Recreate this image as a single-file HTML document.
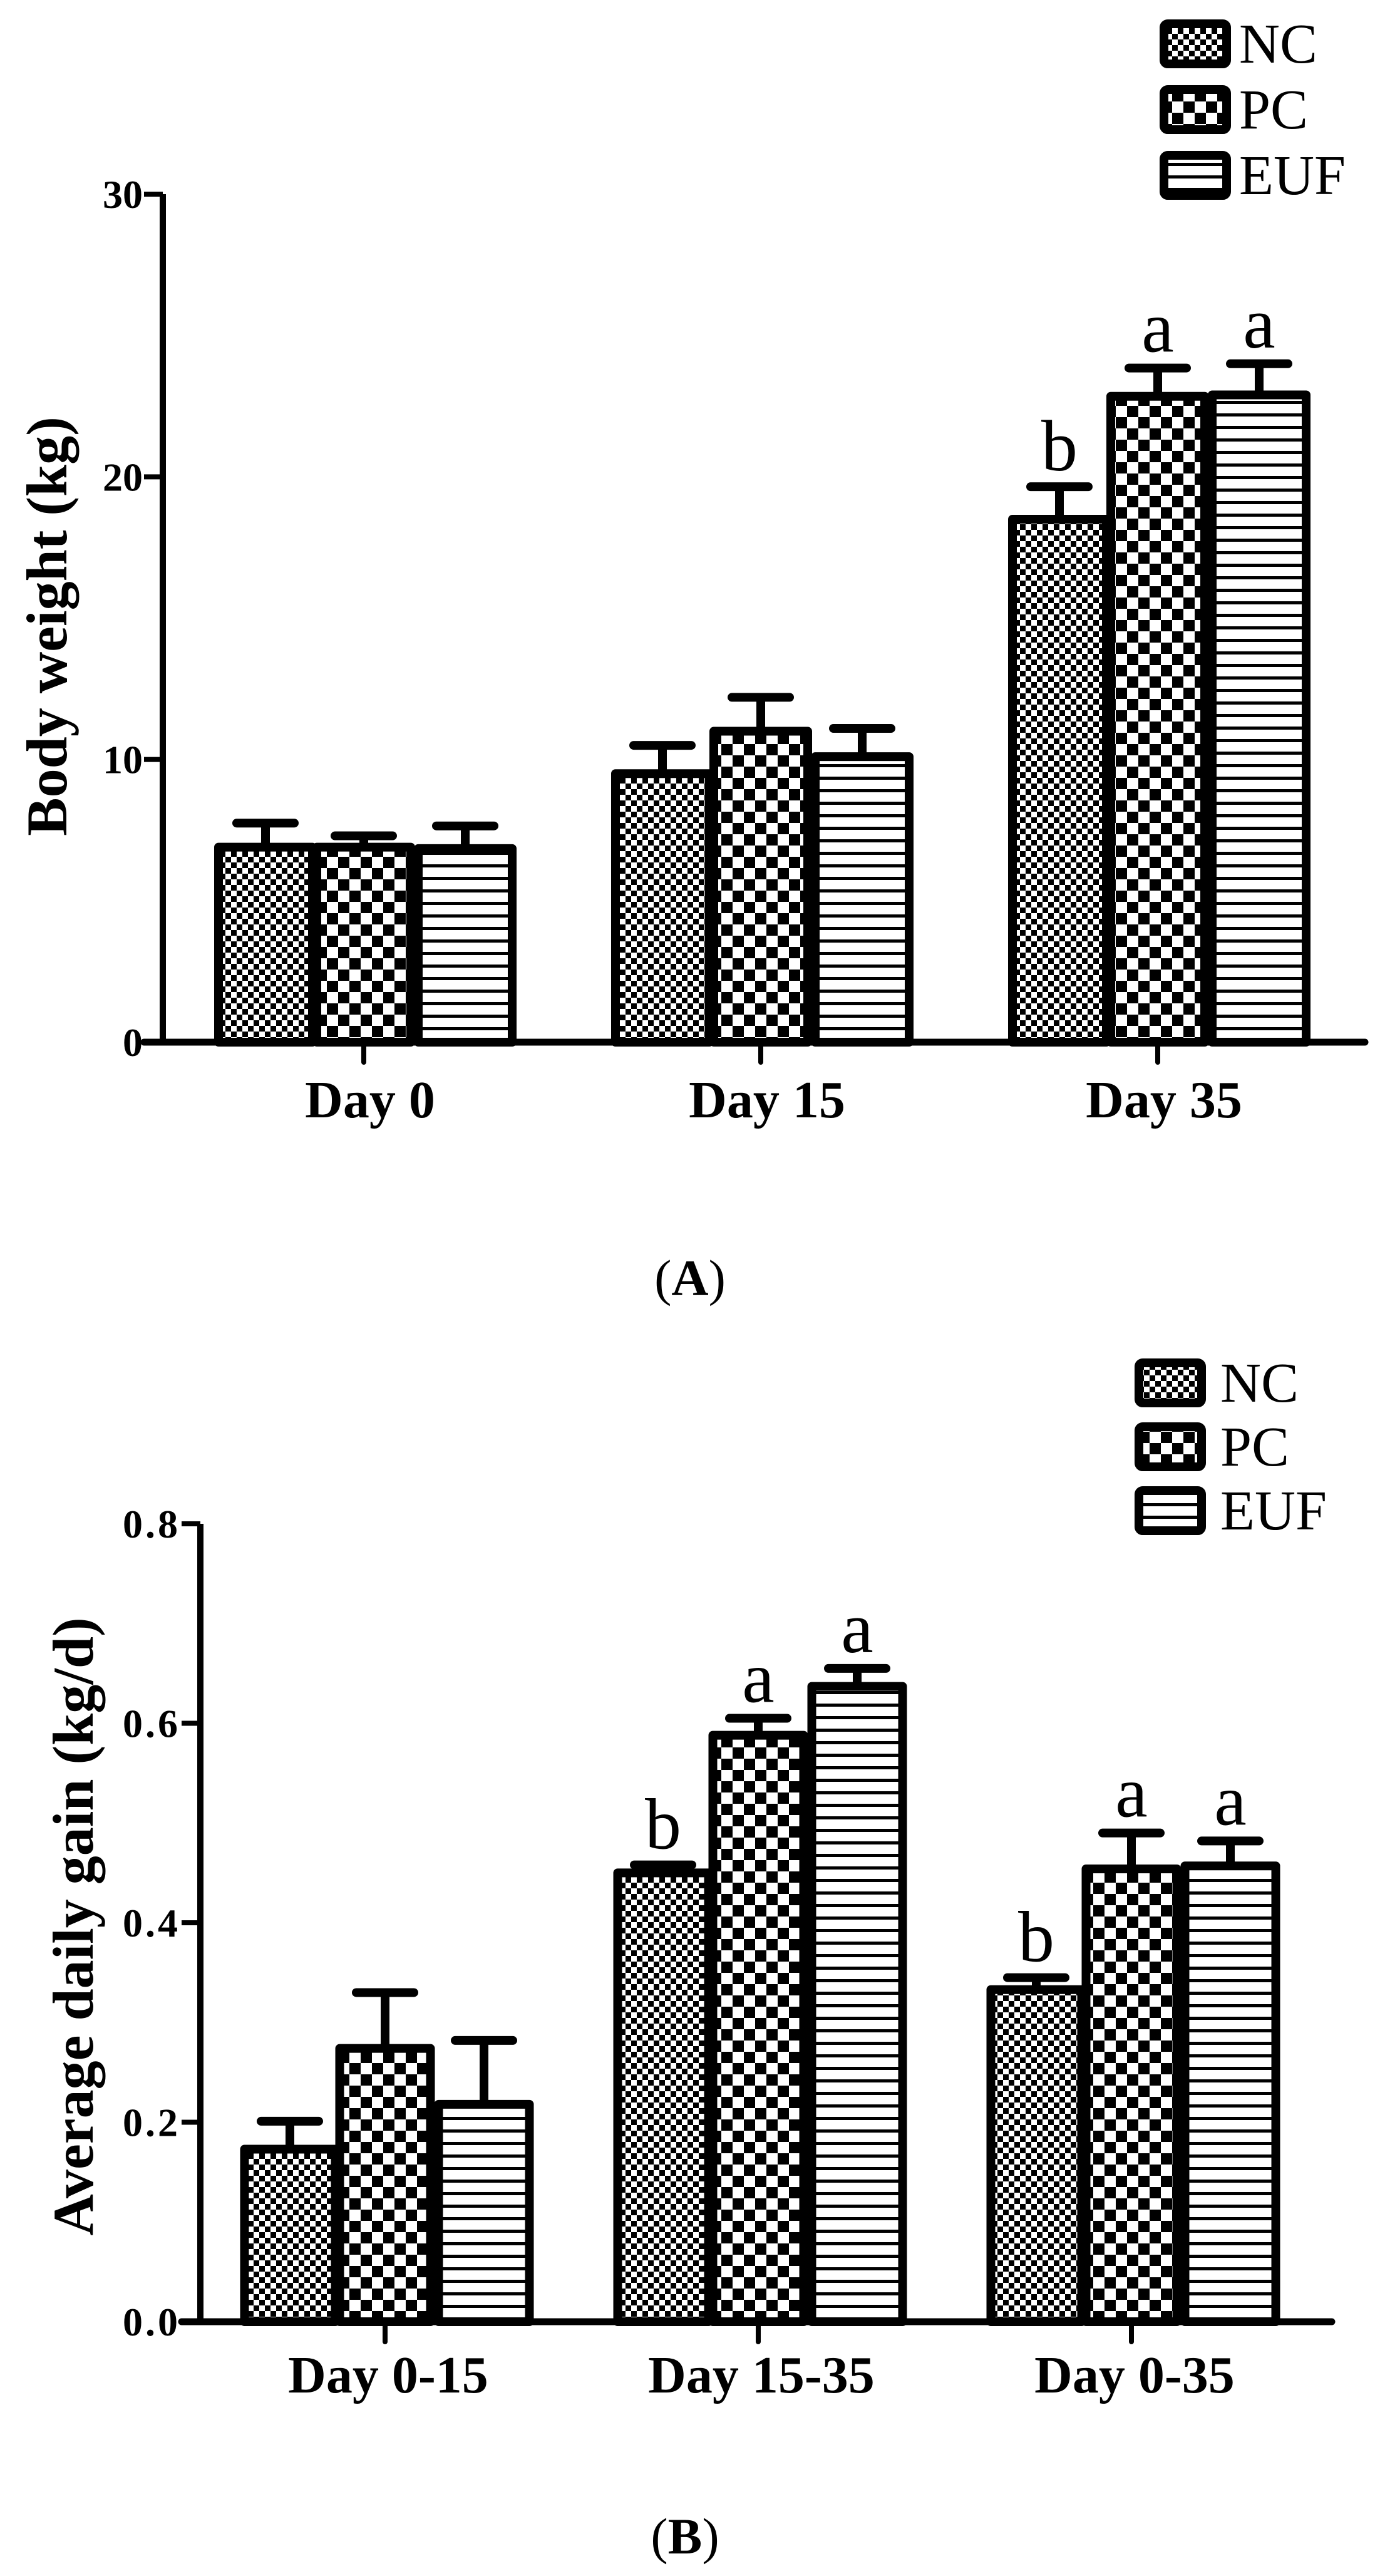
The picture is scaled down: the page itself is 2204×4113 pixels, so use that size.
<!DOCTYPE html>
<html><head><meta charset="utf-8"><style>
html,body{margin:0;padding:0;background:#fff;}
svg{display:block;font-family:"Liberation Serif",serif;}
</style></head><body>
<svg id="fig" width="2204" height="4113" viewBox="0 0 2204 4113" xmlns="http://www.w3.org/2000/svg">
<defs>
<pattern id="pNC" width="18" height="18" patternUnits="userSpaceOnUse">
<rect width="18" height="18" fill="#fff"/><rect width="9" height="9" fill="#000"/><rect x="9" y="9" width="9" height="9" fill="#000"/></pattern>
<pattern id="pPC" width="36" height="36" patternUnits="userSpaceOnUse">
<rect width="36" height="36" fill="#fff"/><rect width="18" height="18" fill="#000"/><rect x="18" y="18" width="18" height="18" fill="#000"/></pattern>
<pattern id="pEUF" width="20" height="20" patternUnits="userSpaceOnUse">
<rect width="20" height="20" fill="#fff"/><rect y="0" width="20" height="5" fill="#000"/></pattern>
</defs>
<g id="chartA"></g>
<g id="chartB"></g>
</svg>
<script>
const seriesNames = ["NC","PC","EUF"];
const catsA = ["Day 0","Day 15","Day 35"];
const ncA = [6.9, 9.5, 18.5];
const pcA = [6.9, 11.0, 22.85];
const eufA = [6.85, 10.1, 22.9];
const ncErrA = [0.85, 1.0, 1.15];
const pcErrA = [0.4, 1.2, 1.0];
const eufErrA = [0.8, 1.0, 1.1];
const ticksA = [0, 10, 20, 30];
const tickLabelsA = ["0","10","20","30"];
const sigA = [["","",""],["","",""],["b","a","a"]];

const catsB = ["Day 0-15","Day 15-35","Day 0-35"];
const ncB = [0.173, 0.450, 0.333];
const pcB = [0.274, 0.588, 0.454];
const eufB = [0.218, 0.637, 0.457];
const ncErrB = [0.028, 0.008, 0.012];
const pcErrB = [0.056, 0.017, 0.036];
const eufErrB = [0.064, 0.018, 0.025];
const ticksB = [0, 0.2, 0.4, 0.6, 0.8];
const tickLabelsB = ["0.0","0.2","0.4","0.6","0.8"];
const sigB = [["","",""],["b","a","a"],["b","a","a"]];

const NS = "http://www.w3.org/2000/svg";
function mk(tag, attrs, parent){const e=document.createElementNS(NS,tag);for(const k in attrs)e.setAttribute(k,attrs[k]);parent.appendChild(e);return e;}

function draw(g, cfg){
  const yS = v => cfg.y0 - (v - 0) / cfg.vmax * (cfg.y0 - cfg.yTop);
  const xC = i => cfg.x0 + cfg.first + i * cfg.step;
  const pats = ["url(#pNC)","url(#pPC)","url(#pEUF)"];
  const vals = [cfg.nc, cfg.pc, cfg.euf];
  const errs = [cfg.ncE, cfg.pcE, cfg.eufE];
  cfg.cats.forEach((c, i) => {
    for (let s = 0; s < 3; s++) {
      const cx = xC(i) + cfg.offs[s];
      const top = yS(vals[s][i]);
      const et = yS(vals[s][i] + errs[s][i]);
      const eb = mk("line",{x1:cx,x2:cx,y1:top,y2:et,stroke:"#000","stroke-width":14},g);
      
      
      const cap = mk("line",{x1:cx-46,x2:cx+46,y1:et,y2:et,stroke:"#000","stroke-width":14,"stroke-linecap":"round"},g);
      
      
      const r = mk("rect",{x:cx-cfg.bw/2,y:top,width:cfg.bw,height:cfg.y0-top,fill:pats[s],stroke:"#000","stroke-width":14,"stroke-linejoin":"round"},g);
      
      
      const lab = cfg.sig[i][s];
      if (lab) {
        const t = mk("text",{x:cx,y:et-26,"text-anchor":"middle","font-size":116},g);
        t.textContent = lab;
        
        
      }
    }
  });
  const ya = mk("line",{x1:cfg.x0,x2:cfg.x0,y1:cfg.yTop,y2:cfg.y0,stroke:"#000","stroke-width":10},g);
  
  
  const xa = mk("line",{x1:cfg.x0-30,x2:cfg.xEnd,y1:cfg.y0,y2:cfg.y0,stroke:"#000","stroke-width":11,"stroke-linecap":"round"},g);
  
  
  cfg.ticks.forEach((v, k) => {
    const y = yS(v);
    const tk = mk("line",{x1:cfg.x0-30,x2:cfg.x0,y1:y,y2:y,stroke:"#000","stroke-width":8},g);
    
    
    const t = mk("text",{x:cfg.x0-32,y:y+22,"text-anchor":"end","font-size":64,"font-weight":"bold","letter-spacing":cfg.ls},g);
    t.textContent = cfg.tickLabels[k];
    
    
  });
  cfg.cats.forEach((c, i) => {
    const x = xC(i);
    const tk = mk("line",{x1:x,x2:x,y1:cfg.y0,y2:cfg.y0+32,stroke:"#000","stroke-width":8,"stroke-linecap":"round"},g);
    
    
    const t = mk("text",{x:x+cfg.labDx,y:cfg.labY,"text-anchor":"middle","font-size":84,"font-weight":"bold"},g);
    t.textContent = c;
    
    
  });
  const yt = mk("text",{x:0,y:0,"text-anchor":"middle","font-size":92,"font-weight":"bold",transform:`translate(${cfg.titleX},${cfg.titleY}) rotate(-90)`},g);
  yt.textContent = cfg.title;
  
  
  for (let s = 0; s < 3; s++) {
    const y = cfg.legY + s * cfg.legStep;
    const b = mk("rect",{x:cfg.legX,y:y,width:100,height:64,rx:6,fill:pats[s],stroke:"#000","stroke-width":14},g);
    
    
    const t = mk("text",{x:cfg.legX+cfg.legTx,y:y+62,"font-size":90},g);
    t.textContent = seriesNames[s];
    
    
  }
  const cap = mk("text",{x:cfg.capX,y:cfg.capY,"text-anchor":"middle","font-size":82},g);
  cap.innerHTML = '(<tspan font-weight="bold">' + cfg.capLetter + '</tspan>)';
  
  
}

draw(document.getElementById("chartA"), {
  x0:260, y0:1664, yTop:310, vmax:30, xEnd:2180, first:321, step:634, offs:[-157,0,162], bw:150,
  cats:catsA, nc:ncA, pc:pcA, euf:eufA, ncE:ncErrA, pcE:pcErrA, eufE:eufErrA,
  ticks:ticksA, tickLabelsA:null, tickLabels:tickLabelsA, sig:sigA, ls:0, labY:1784, labDx:10,
  title:"Body weight (kg)", titleX:106, titleY:1000,
  legX:1859, legY:38, legStep:105, legTx:120, capX:1102, capY:2068, capLetter:"A"
});
draw(document.getElementById("chartB"), {
  x0:320, y0:3707, yTop:2433, vmax:0.8, xEnd:2127, first:295, step:596, offs:[-152,0,158], bw:145,
  cats:catsB, nc:ncB, pc:pcB, euf:eufB, ncE:ncErrB, pcE:pcErrB, eufE:eufErrB,
  ticks:ticksB, tickLabels:tickLabelsB, sig:sigB, ls:4, labY:3820, labDx:5,
  title:"Average daily gain (kg/d)", titleX:148, titleY:3076,
  legX:1819, legY:2176, legStep:102, legTx:130, capX:1094, capY:4077, capLetter:"B"
});
</script>
</body></html>
